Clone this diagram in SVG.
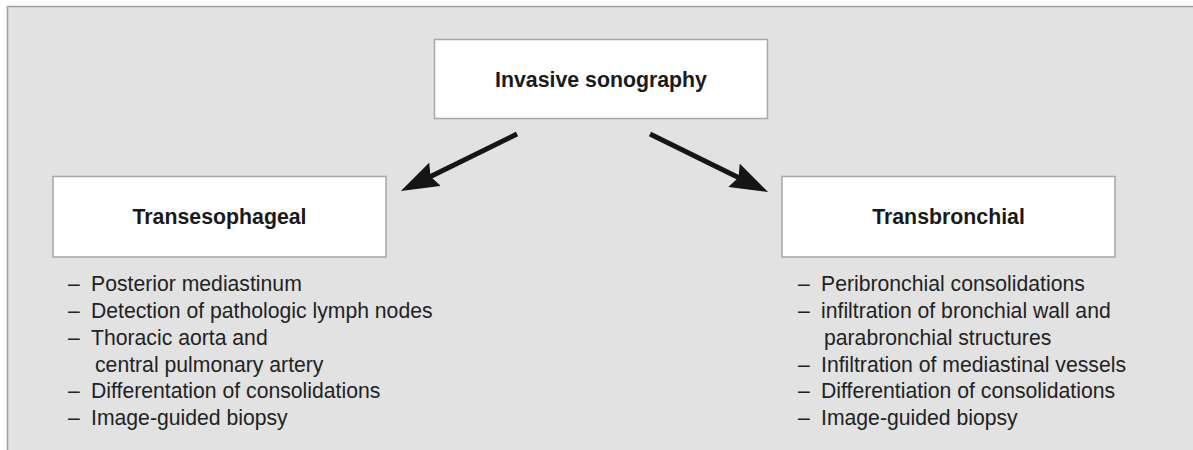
<svg xmlns="http://www.w3.org/2000/svg" width="1193" height="450" viewBox="0 0 1193 450">
<style>
.box{fill:#ffffff;stroke:#a6a6a6;stroke-width:1.5}
.title{font-family:"Liberation Sans",Arial,sans-serif;font-weight:bold;font-size:21.3px;fill:#1a1a1a;text-anchor:middle}
.item{font-family:"Liberation Sans",Arial,sans-serif;font-size:21.2px;fill:#222222}
.conn{stroke:#151515;stroke-width:5;fill:none}
</style>
<defs>
<marker id="head" markerUnits="userSpaceOnUse" markerWidth="38" markerHeight="26" viewBox="0 0 38 26" refX="10" refY="13" orient="auto">
<path d="M0,0 L38,13 L0,26 L5,13 Z" fill="#151515"/>
</marker>
</defs>
<rect x="0" y="0" width="1193" height="450" fill="#ffffff"/>
<rect x="7.5" y="6.5" width="1200" height="460" fill="#e2e2e2" stroke="#a0a0a0" stroke-width="1.5"/>
<g id="connectors">
<line class="conn" x1="517" y1="134" x2="426" y2="178.7" marker-end="url(#head)"/>
<line class="conn" x1="650" y1="134" x2="743" y2="179.7" marker-end="url(#head)"/>
</g>
<g id="node-invasive">
<rect class="box" x="434.5" y="39.5" width="333" height="79"/>
<text class="title" x="601" y="87">Invasive sonography</text>
</g>
<g id="node-transesophageal">
<rect class="box" x="53" y="176.5" width="333" height="80.5"/>
<text class="title" x="219.5" y="224">Transesophageal</text>
</g>
<g id="node-transbronchial">
<rect class="box" x="782" y="176.5" width="333" height="80.5"/>
<text class="title" x="948.5" y="224">Transbronchial</text>
</g>
<g id="list-transesophageal" class="item">
<text x="68" y="291">–</text><text x="91" y="291">Posterior mediastinum</text>
<text x="68" y="318">–</text><text x="91" y="318">Detection of pathologic lymph nodes</text>
<text x="68" y="345">–</text><text x="91" y="345">Thoracic aorta and</text>
<text x="95" y="372">central pulmonary artery</text>
<text x="68" y="398">–</text><text x="91" y="398">Differentation of consolidations</text>
<text x="68" y="425">–</text><text x="91" y="425">Image-guided biopsy</text>
</g>
<g id="list-transbronchial" class="item">
<text x="798" y="291">–</text><text x="821" y="291">Peribronchial consolidations</text>
<text x="798" y="318">–</text><text x="821" y="318">infiltration of bronchial wall and</text>
<text x="824" y="345">parabronchial structures</text>
<text x="798" y="372">–</text><text x="821" y="372">Infiltration of mediastinal vessels</text>
<text x="798" y="398">–</text><text x="821" y="398">Differentiation of consolidations</text>
<text x="798" y="425">–</text><text x="821" y="425">Image-guided biopsy</text>
</g>
</svg>
